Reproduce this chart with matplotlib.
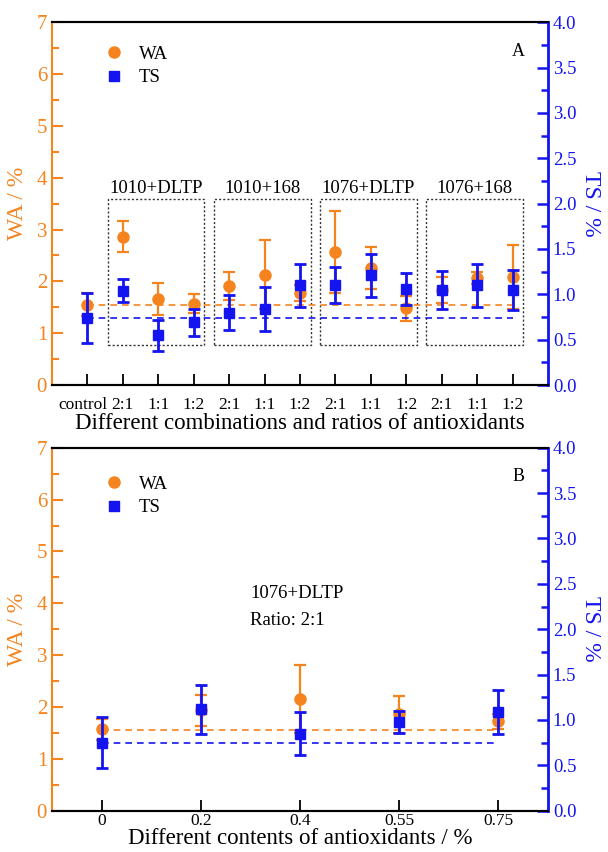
import matplotlib
matplotlib.use('Agg')
import matplotlib.pyplot as plt
import matplotlib.transforms as mtransforms
from matplotlib.patches import Rectangle
from matplotlib.lines import Line2D
from matplotlib.ticker import MultipleLocator, FormatStrFormatter

plt.rcParams['font.family'] = ['Liberation Serif', 'DejaVu Serif']
plt.rcParams['mathtext.fontset'] = 'stix'

# panel A data
cats_a = ['control', '2:1', '1:1', '1:2', '2:1', '1:1', '1:2',
          '2:1', '1:1', '1:2', '2:1', '1:1', '1:2']
groups = ['1010+DLTP', '1010+168', '1076+DLTP', '1076+168']
wa_a = [1.55, 2.86, 1.66, 1.57, 1.91, 2.13, 1.78, 2.57, 2.26, 1.48, 1.83, 2.07, 2.09]
wa_a_err = [0.22, 0.30, 0.30, 0.18, 0.27, 0.66, 0.15, 0.79, 0.40, 0.24, 0.25, 0.12, 0.62]
ts_a = [0.74, 1.04, 0.55, 0.69, 0.80, 0.84, 1.10, 1.10, 1.21, 1.06, 1.05, 1.10, 1.05]
ts_a_err = [0.28, 0.125, 0.17, 0.15, 0.19, 0.24, 0.24, 0.20, 0.24, 0.18, 0.21, 0.24, 0.22]

# panel B data
cats_b = ['0', '0.2', '0.4', '0.55', '0.75']
wa_b = [1.57, 1.94, 2.15, 1.86, 1.72]
wa_b_err = [0.20, 0.30, 0.66, 0.36, 0.15]
ts_b = [0.75, 1.12, 0.85, 0.98, 1.09]
ts_b_err = [0.28, 0.27, 0.24, 0.12, 0.24]

wa_ref = 1.55
ts_ref = 0.745

orange = '#f5841f'
blue = '#1414f0'


def style_axes(ax, ax2, xlabels, xlabel, letter, tpad, lpad, leg_y):
    n = len(xlabels)
    ax.set_xlim(-1 if n > 5 else -0.5, n if n > 5 else n - 0.5)
    ax.set_ylim(0, 7)
    ax2.set_ylim(0, 4)
    ax.set_xticks(range(n))
    ax.set_xticklabels(xlabels, fontsize=12.5)
    ax.tick_params(axis='x', direction='in', length=8, width=1.3, pad=tpad,
                   top=False)
    ax.yaxis.set_major_locator(MultipleLocator(1))
    ax.yaxis.set_minor_locator(MultipleLocator(0.5))
    ax.tick_params(axis='y', which='both', direction='in', colors=orange,
                   width=1.5, labelsize=15)
    ax.tick_params(axis='y', which='major', length=8)
    ax.tick_params(axis='y', which='minor', length=5)
    ax2.yaxis.set_major_locator(MultipleLocator(0.5))
    ax2.yaxis.set_minor_locator(MultipleLocator(0.25))
    ax2.yaxis.set_major_formatter(FormatStrFormatter('%.1f'))
    ax2.tick_params(axis='y', which='both', direction='in', colors=blue,
                    width=1.8, labelsize=13.5)
    ax2.tick_params(axis='y', which='major', length=8)
    ax2.tick_params(axis='y', which='minor', length=5)
    ax.spines['left'].set_color(orange)
    ax.spines['left'].set_linewidth(1.5)
    ax2.spines['left'].set_visible(False)
    ax2.spines['right'].set_color(blue)
    ax2.spines['right'].set_linewidth(2)
    for a in (ax, ax2):
        a.spines['top'].set_linewidth(1.5)
        a.spines['bottom'].set_linewidth(1.5)
    ax.set_ylabel('WA / %', color=orange, fontsize=17, labelpad=6)
    ax2.set_ylabel('TS / %', color=blue, fontsize=17, rotation=270, labelpad=18)
    ax.set_xlabel(xlabel, fontsize=16.5, labelpad=lpad)
    ax.text(0.94, 0.92, letter, transform=ax.transAxes, fontsize=13,
            ha='center', va='center')
    handles = [Line2D([], [], ls='none', marker='o', color=orange, ms=8),
               Line2D([], [], ls='none', marker='s', color=blue, ms=7)]
    ax2.legend(handles, ['WA', 'TS'], loc='upper left', frameon=False,
               bbox_to_anchor=(0.062, leg_y), fontsize=13.5,
               handletextpad=0.6, labelspacing=0.35, handlelength=1.5)


def draw_series(ax, ax2, wa, wa_err, ts, ts_err):
    x = list(range(len(wa)))
    ax.errorbar(x, wa, yerr=wa_err, fmt='o', color=orange, ms=8,
                elinewidth=1.6, capsize=4.5, capthick=1.6, zorder=3)
    ax2.errorbar(x, ts, yerr=ts_err, fmt='s', color=blue, ms=7,
                 elinewidth=2, capsize=4.5, capthick=2, zorder=3)
    ax.plot([0, x[-1]], [wa_ref, wa_ref], ls=(0, (4, 3)), color=orange, lw=1.2)
    ax2.plot([0, x[-1]], [ts_ref, ts_ref], ls=(0, (4, 3)), color=blue, lw=1.2)


fig = plt.figure(figsize=(6.08, 8.52), dpi=100)

# panel A
ax = fig.add_axes([0.0855, 0.548, 0.8158, 0.426])
ax2 = ax.twinx()
draw_series(ax, ax2, wa_a, wa_a_err, ts_a, ts_a_err)
for i, g in enumerate(groups):
    k = 3 * i
    ax.add_patch(Rectangle((k + 0.57, 0.78), 2.73, 2.8, fill=False,
                           ls=(0, (1.5, 1.5)), lw=1, ec='#333333'))
    ax.text(k + 1.93, 3.8, g, ha='center', va='center', fontsize=13.5)
style_axes(ax, ax2, cats_a, 'Different combinations and ratios of antioxidants',
           'A', 8.5, 0, 0.982)
# nudge "control" a little left so it does not touch "2:1"
lab0 = ax.get_xticklabels()[0]
lab0.set_transform(lab0.get_transform() +
                   mtransforms.ScaledTranslation(-4 / 100, 0, fig.dpi_scale_trans))

# panel B
bx = fig.add_axes([0.0855, 0.0485, 0.8158, 0.426])
bx2 = bx.twinx()
draw_series(bx, bx2, wa_b, wa_b_err, ts_b, ts_b_err)
bx.text(1.5, 4.19, '1076+DLTP', ha='left', va='center', fontsize=13.5)
bx.text(1.5, 3.67, 'Ratio: 2:1', ha='left', va='center', fontsize=13.5)
style_axes(bx, bx2, cats_b, 'Different contents of antioxidants / %',
           'B', 2, -1, 0.97)

fig.savefig('out.png', dpi=100)
